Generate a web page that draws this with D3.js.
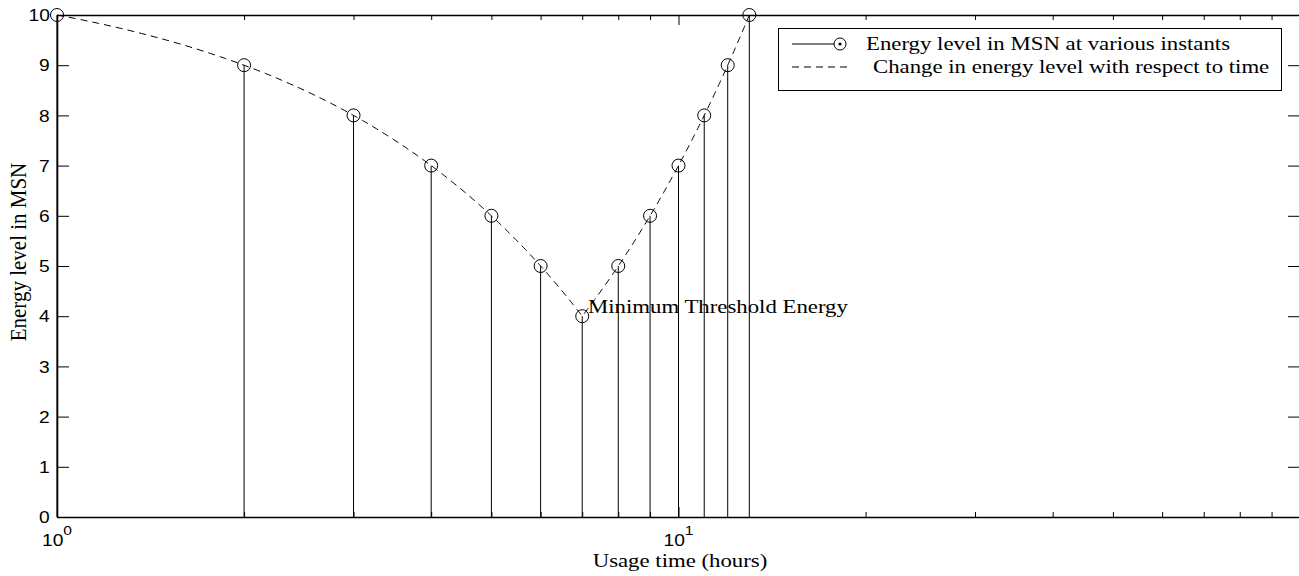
<!DOCTYPE html>
<html><head><meta charset="utf-8">
<script src="https://cdn.jsdelivr.net/npm/d3@7"></script>
<style>
html,body{margin:0;padding:0;background:#fff;}
svg{display:block;}
</style></head>
<body>
<svg id="chart" width="1299" height="576"></svg>
<script>
// ---- data ----
const hours = [1,2,3,4,5,6,7,8,9,10,11,12,13];
const energy = [10,9,8,7,6,5,4,5,6,7,8,9,10];
const yTickValues = [0,1,2,3,4,5,6,7,8,9,10];
const xMajorTickValues = [1,10,100];
const xLabelledTicks = [1,10];
const xMinorTickValues = [2,3,4,5,6,7,8,9,20,30,40,50,60,70,80,90];
const xTitle = "Usage time (hours)";
const yTitle = "Energy level in MSN";
const annotationText = "Minimum Threshold Energy";
const legendLabels = ["Energy level in MSN at various instants","Change in energy level with respect to time"];

// ---- layout ----
const svg = d3.select("#chart");
const W = 1299, H = 576;
const pLeft = 57, pRight = 1300, pTop = 15, pBottom = 517;
const SX = 1.2; // horizontal stretch of text
const serif = "'Liberation Serif','Times New Roman',Times,serif";
const sans = "'Liberation Sans',Arial,Helvetica,sans-serif";

const x = d3.scaleLog().domain([1,100]).range([pLeft,pRight]);
const y = d3.scaleLinear().domain([0,10]).range([pBottom,pTop]);

svg.append("rect").attr("width",W).attr("height",H).attr("fill","#fff");

// ---- axes ----
function styleAxis(g){
  g.select(".domain").attr("stroke","#000").attr("stroke-width",1.6);
  g.selectAll(".tick line").attr("stroke","#000").attr("stroke-width",1);
}
svg.append("g").attr("transform",`translate(0,${pBottom})`)
  .call(d3.axisBottom(x).tickValues(xMajorTickValues).tickSize(-10).tickSizeOuter(0).tickFormat(""))
  .call(styleAxis);
svg.append("g").attr("transform",`translate(0,${pBottom})`)
  .call(d3.axisBottom(x).tickValues(xMinorTickValues).tickSize(-5).tickSizeOuter(0).tickFormat(""))
  .call(g=>g.select(".domain").remove()).call(styleAxis);
svg.append("g").attr("transform",`translate(0,${pTop})`)
  .call(d3.axisTop(x).tickValues(xMajorTickValues).tickSize(-10).tickSizeOuter(0).tickFormat(""))
  .call(styleAxis);
svg.append("g").attr("transform",`translate(0,${pTop})`)
  .call(d3.axisTop(x).tickValues(xMinorTickValues).tickSize(-5).tickSizeOuter(0).tickFormat(""))
  .call(g=>g.select(".domain").remove()).call(styleAxis);
const gy = svg.append("g").attr("transform",`translate(${pLeft},0)`)
  .call(d3.axisLeft(y).tickValues(yTickValues).tickSize(-12).tickSizeOuter(0).tickPadding(6))
  .call(styleAxis);
gy.selectAll(".tick text")
  .attr("x",-6).attr("dy","0.35em")
  .attr("transform",`scale(${SX},1)`)
  .attr("font-family",sans).attr("font-size",16).attr("fill","#000");
svg.append("g").attr("transform",`translate(${pRight},0)`)
  .call(d3.axisRight(y).tickValues(yTickValues).tickSize(-12).tickSizeOuter(0).tickFormat(""))
  .call(styleAxis);

// x tick labels 10^n
xLabelledTicks.forEach(v=>{
  const t = svg.append("text")
    .attr("transform",`translate(${x(v)},${pBottom+29}) scale(${SX},1)`)
    .attr("text-anchor","middle").attr("font-family",sans).attr("fill","#000");
  t.append("tspan").attr("font-size",16).text("10");
  t.append("tspan").attr("font-size",13).attr("dy",-11).text(String(Math.round(Math.log10(v))));
});

// ---- titles ----
svg.append("text")
  .attr("transform",`translate(680,567) scale(${SX},1)`)
  .attr("text-anchor","middle").attr("font-family",serif).attr("font-size",19).attr("fill","#000")
  .text(xTitle);
svg.append("text")
  .attr("transform",`translate(26,252) rotate(-90) scale(1.05,${SX})`)
  .attr("text-anchor","middle").attr("font-family",serif).attr("font-size",20).attr("fill","#000")
  .text(yTitle);

// ---- data marks ----
const pts = hours.map((h,i)=>({h, e: energy[i]}));

// straight segments in data space, rendered on the log x axis
function curveDataLinear(context){
  let px0, py0, first = true;
  const N = 30;
  return {
    areaStart(){}, areaEnd(){},
    lineStart(){ first = true; },
    lineEnd(){},
    point(px, py){
      px = +px; py = +py;
      if(first){ context.moveTo(px,py); first = false; }
      else {
        const a = x.invert(px0), b = x.invert(px);
        for(let k=1;k<=N;k++){
          const t = k/N;
          context.lineTo(x(a+(b-a)*t), py0+(py-py0)*t);
        }
      }
      px0 = px; py0 = py;
    }
  };
}
svg.append("path")
  .datum(pts)
  .attr("d", d3.line().x(d=>x(d.h)).y(d=>y(d.e)).curve(curveDataLinear))
  .attr("fill","none").attr("stroke","#000").attr("stroke-width",1)
  .attr("stroke-dasharray","7,5");

svg.append("g").selectAll("line").data(pts).join("line")
  .attr("x1",d=>x(d.h)).attr("x2",d=>x(d.h))
  .attr("y1",y(0)).attr("y2",d=>y(d.e))
  .attr("stroke","#000").attr("stroke-width",1);

svg.append("g").selectAll("circle").data(pts).join("circle")
  .attr("cx",d=>x(d.h)).attr("cy",d=>y(d.e)).attr("r",6.5)
  .attr("fill","none").attr("stroke","#000").attr("stroke-width",1);

// annotation
svg.append("text")
  .attr("transform",`translate(588,313) scale(${SX},1)`)
  .attr("font-family",serif).attr("font-size",19).attr("fill","#000")
  .text(annotationText);

// ---- legend ----
const lg = svg.append("g");
lg.append("rect").attr("x",778.5).attr("y",28.5).attr("width",503).attr("height",62)
  .attr("fill","#fff").attr("stroke","#000").attr("stroke-width",1);
lg.append("line").attr("x1",792).attr("x2",834).attr("y1",44).attr("y2",44)
  .attr("stroke","#000").attr("stroke-width",1);
lg.append("circle").attr("cx",840).attr("cy",44).attr("r",6)
  .attr("fill","none").attr("stroke","#000").attr("stroke-width",1);
lg.append("circle").attr("cx",840).attr("cy",44).attr("r",1.6).attr("fill","#000");
lg.append("text").attr("transform",`translate(866,50) scale(${SX},1)`)
  .attr("font-family",serif).attr("font-size",19).attr("fill","#000").text(legendLabels[0]);
lg.append("line").attr("x1",792).attr("x2",852).attr("y1",67).attr("y2",67)
  .attr("stroke","#000").attr("stroke-width",1).attr("stroke-dasharray","7,5");
lg.append("text").attr("transform",`translate(873,73) scale(${SX},1)`)
  .attr("font-family",serif).attr("font-size",19).attr("fill","#000").text(legendLabels[1]);
</script>
</body></html>
